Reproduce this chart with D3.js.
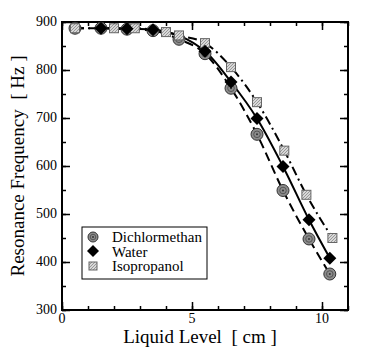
<!DOCTYPE html>
<html>
<head>
<meta charset="utf-8">
<script src="https://cdn.jsdelivr.net/npm/d3@7"></script>
<style>
  body { margin: 0; background: #fff; }
</style>
</head>
<body>
<div id="chart"></div>
<script>
// liquid level [cm] and resonance frequency [Hz]
const dichlorX = [0.5, 1.5, 2.5, 3.5, 4.5, 5.5, 6.5, 7.5, 8.5, 9.5, 10.3]
const dichlorY = [887, 887, 885, 882, 864, 834, 762, 666, 549, 448, 375]
const waterX = [1.5, 2.5, 3.5, 5.5, 6.5, 7.5, 8.5, 9.5, 10.3]
const waterY = [887, 886, 884, 839, 775, 699, 599, 488, 408]
const isoX = [0.5, 2.0, 2.8, 4.0, 4.5, 5.5, 6.5, 7.5, 8.55, 9.4, 10.4]
const isoY = [887, 887, 887, 879, 872, 856, 806, 733, 632, 540, 450]
const seriesNames = ['Dichlormethan', 'Water', 'Isopropanol']
const xTicks = [0, 5, 10]
const yTicks = [300, 400, 500, 600, 700, 800, 900]

const W = 373, H = 354
const margin = { top: 22, left: 62, right: 25, bottom: 44 }
const width = W - margin.left - margin.right
const height = H - margin.top - margin.bottom
const serif = '"Liberation Serif", "Times New Roman", Times, serif'

const svg = d3.select('#chart').append('svg')
  .attr('width', W).attr('height', H)
  .attr('font-family', serif)

const defs = svg.append('defs')
const hatch = defs.append('pattern')
  .attr('id', 'hatch').attr('patternUnits', 'userSpaceOnUse')
  .attr('width', 3).attr('height', 3)
hatch.append('rect').attr('width', 3).attr('height', 3).attr('fill', '#d8d8d8')
hatch.append('path').attr('d', 'M0,3L3,0').attr('stroke', '#888').attr('stroke-width', 0.8)

const g = svg.append('g')
  .attr('transform', 'translate(' + margin.left + ',' + margin.top + ')')

const x = d3.scaleLinear().domain([0, 11]).range([0, width])
const y = d3.scaleLinear().domain([300, 900]).range([height, 0])

// ticks on all four sides, pointing inward
const majorX = d3.range(0, 11.01, 5), minorX = d3.range(0, 11.01, 1)
const majorY = d3.range(300, 901, 100), minorY = d3.range(300, 901, 50)

g.append('g').attr('transform', 'translate(0,' + height + ')')
  .call(d3.axisBottom(x).tickValues(minorX).tickSize(-4).tickFormat(''))
g.append('g').attr('transform', 'translate(0,' + height + ')')
  .call(d3.axisBottom(x).tickValues(majorX).tickSize(-8).tickFormat(''))
g.append('g')
  .call(d3.axisTop(x).tickValues(minorX).tickSize(-4).tickFormat(''))
g.append('g')
  .call(d3.axisTop(x).tickValues(majorX).tickSize(-8).tickFormat(''))
g.append('g')
  .call(d3.axisLeft(y).tickValues(minorY).tickSize(-4).tickFormat(''))
g.append('g')
  .call(d3.axisLeft(y).tickValues(majorY).tickSize(-8).tickFormat(''))
g.append('g').attr('transform', 'translate(' + width + ',0)')
  .call(d3.axisRight(y).tickValues(minorY).tickSize(-4).tickFormat(''))
g.append('g').attr('transform', 'translate(' + width + ',0)')
  .call(d3.axisRight(y).tickValues(majorY).tickSize(-8).tickFormat(''))
g.selectAll('.domain').remove()
g.selectAll('.tick line').attr('stroke', '#000').attr('stroke-width', 1.5)

g.append('rect').attr('width', width).attr('height', height)
  .attr('fill', 'none').attr('stroke', '#000').attr('stroke-width', 2)

// tick labels
g.selectAll('.xlab').data(xTicks).enter().append('text')
  .attr('x', d => x(d)).attr('y', height + 13)
  .attr('text-anchor', 'middle').attr('font-size', 14)
  .text(d => d)
g.selectAll('.ylab').data(yTicks).enter().append('text')
  .attr('x', -5).attr('y', d => y(d) + 4)
  .attr('text-anchor', 'end').attr('font-size', 14)
  .text(d => d)

svg.append('text')
  .attr('x', margin.left + width / 2 - 5).attr('y', 343)
  .attr('text-anchor', 'middle').attr('font-size', 19)
  .attr('xml:space', 'preserve')
  .text('Liquid Level  [ cm ]')
svg.append('text')
  .attr('transform', 'translate(24,' + (margin.top + height / 2) + ') rotate(-90)')
  .attr('text-anchor', 'middle').attr('font-size', 19)
  .attr('xml:space', 'preserve')
  .text('Resonance Frequency  [ Hz ]')

// fitted curves
const line = d3.line().x(d => x(d[0])).y(d => y(d[1])).curve(d3.curveMonotoneX)
const series = [
  { xs: dichlorX, ys: dichlorY, dash: '9,5' },
  { xs: waterX, ys: waterY, dash: null },
  { xs: isoX, ys: isoY, dash: '9,4,2,4' }
]
series.forEach(s => {
  const pts = s.xs.map((v, i) => [v, s.ys[i]])
  g.append('path').datum(pts)
    .attr('d', line)
    .attr('fill', 'none').attr('stroke', '#000').attr('stroke-width', 2)
    .attr('stroke-dasharray', s.dash)
})

// markers
function circleMark(sel, cx, cy, r) {
  sel.append('circle').attr('cx', cx).attr('cy', cy).attr('r', r)
    .attr('fill', '#8c8c8c').attr('stroke', '#333').attr('stroke-width', 1)
  sel.append('circle').attr('cx', cx).attr('cy', cy).attr('r', r * 0.55)
    .attr('fill', 'none').attr('stroke', '#555').attr('stroke-width', 1)
  sel.append('circle').attr('cx', cx).attr('cy', cy).attr('r', 1)
    .attr('fill', '#333')
}
function squareMark(sel, cx, cy, s) {
  sel.append('rect').attr('x', cx - s / 2).attr('y', cy - s / 2)
    .attr('width', s).attr('height', s)
    .attr('fill', 'url(#hatch)').attr('stroke', '#666').attr('stroke-width', 1)
}
function diamondMark(sel, cx, cy, r) {
  sel.append('path')
    .attr('d', 'M' + cx + ',' + (cy - r) + 'L' + (cx + r) + ',' + cy + 'L' + cx + ',' + (cy + r) + 'L' + (cx - r) + ',' + cy + 'Z')
    .attr('fill', '#000')
}

dichlorX.forEach((v, i) => circleMark(g, x(v), y(dichlorY[i]), 6))
isoX.forEach((v, i) => squareMark(g, x(v), y(isoY[i]), 9))
waterX.forEach((v, i) => diamondMark(g, x(v), y(waterY[i]), 6.5))

// legend
const lg = svg.append('g').attr('transform', 'translate(82,227)')
lg.append('rect').attr('width', 125).attr('height', 52)
  .attr('fill', '#fff').attr('stroke', '#000').attr('stroke-width', 1)
circleMark(lg, 11, 10, 5)
diamondMark(lg, 11, 24, 6)
squareMark(lg, 11, 39, 8)
seriesNames.forEach((n, i) => {
  lg.append('text').attr('x', 30).attr('y', 15 + i * 14.5)
    .attr('font-size', 15).text(n)
})
</script>
</body>
</html>
